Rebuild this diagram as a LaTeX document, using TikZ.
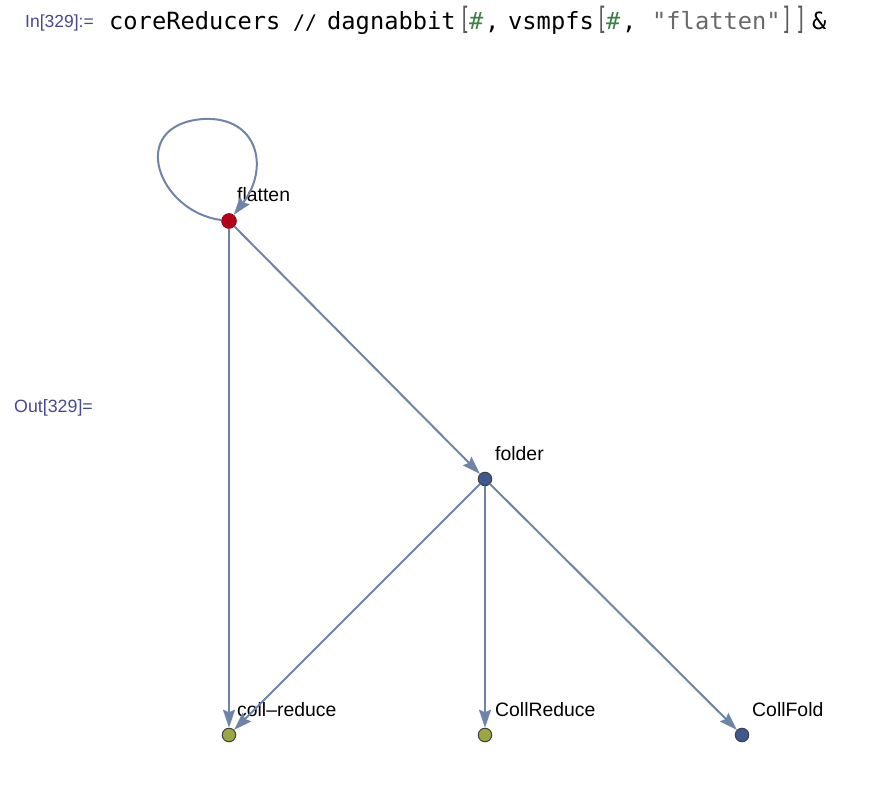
\documentclass[tikz,border=0pt]{standalone}
\usepackage{fontspec}
\usepackage{graphicx}
\setmainfont{Liberation Sans}
\newfontfamily\codefont{DejaVu Sans Mono}
\usetikzlibrary{arrows.meta}
\definecolor{edgecol}{RGB}{110,132,168}
\definecolor{redv}{RGB}{180,0,24}
\definecolor{bluev}{RGB}{62,88,146}
\definecolor{olivev}{RGB}{156,166,66}
\definecolor{inlab}{RGB}{70,72,150}
\definecolor{hashg}{RGB}{60,130,70}
\definecolor{strg}{RGB}{105,105,105}
\definecolor{brk}{RGB}{90,90,90}
\tikzset{
  vtx/.style={circle,inner sep=0pt,minimum size=13.5pt,draw=black!75,line width=1pt},
  redvtx/.style={circle,inner sep=0pt,minimum size=15pt,fill=redv,draw=redv!80!black,line width=0.5pt},
  vlabel/.style={anchor=base west,inner sep=0pt,font=\fontsize{19.4}{19.4}\selectfont},
  edge/.style={draw=edgecol,line width=2pt,-{Stealth[length=18pt,width=12pt,inset=2.5pt]}},
  code/.style={anchor=base west,inner sep=0pt,font=\codefont\fontsize{23.7}{24}\selectfont},
  cellab/.style={anchor=base west,inner sep=0pt,text=inlab,font=\fontsize{17.5}{17.5}\selectfont}
}
\begin{document}
\begin{tikzpicture}[x=1pt,y=-1pt]
\useasboundingbox (0,0) rectangle (884,786);
% header
\node[cellab] (inl) at (25,28) {In[329]:=};
\node[cellab,font=\fontsize{17.8}{17.8}\selectfont] (outl) at (14,413) {Out[329]=};
\node[code] (c1) at (109,30) {coreReducers};
\node[code,font=\codefont\fontsize{20}{20}\selectfont] (c2) at (293,30) {//};
\node[code] (c3) at (327,30) {dagnabbit};
\node[code,text=brk] (b1) at (459,30) {\scalebox{0.8}[1.3]{[}};
\node[code,text=hashg] (h1) at (469,30) {\#};
\node[code] (k1) at (485,30) {,};
\node[code] (c4) at (508,30) {vsmpfs};
\node[code,text=brk] (b2) at (596,30) {\scalebox{0.8}[1.3]{[}};
\node[code,text=hashg] (h2) at (606,30) {\#};
\node[code] (k2) at (622,30) {,};
\node[code,text=strg] (s1) at (652,30) {"flatten"};
\node[code,text=brk] (b3) at (781,30) {\scalebox{0.8}[1.3]{]}};
\node[code,text=brk] (b4) at (795,30) {\scalebox{0.8}[1.3]{]}};
\node[code] (amp) at (812,30) {\&};
% vertices
\node[redvtx] (flatten) at (229,221) {};
\node[vtx,fill=bluev] (folder) at (485,479) {};
\node[vtx,fill=olivev] (collr) at (229,735) {};
\node[vtx,fill=olivev] (CollReduce) at (485,735) {};
\node[vtx,fill=bluev] (CollFold) at (742,735) {};
% labels
\node[vlabel] (lf) at (237,202) {flatten};
\node[vlabel] (lfo) at (495,460) {folder};
\node[vlabel] (lcr) at (237,716) {coll\textendash reduce};
\node[vlabel] (lCR) at (495,716) {CollReduce};
\node[vlabel] (lCF) at (752,716) {CollFold};
% edges
\draw[draw=edgecol,line width=2pt] (flatten) .. controls (158,212) and (126,125) .. (203,119) coordinate (looptop);
\draw[edge] (looptop) .. controls (258,116) and (270,168) .. (flatten);
\draw[edge] (flatten) -- (collr);
\draw[edge] (flatten) -- (folder);
\draw[edge] (folder) -- (collr);
\draw[edge] (folder) -- (CollReduce);
\draw[edge] (folder) -- (CollFold);
\end{tikzpicture}
\end{document}
